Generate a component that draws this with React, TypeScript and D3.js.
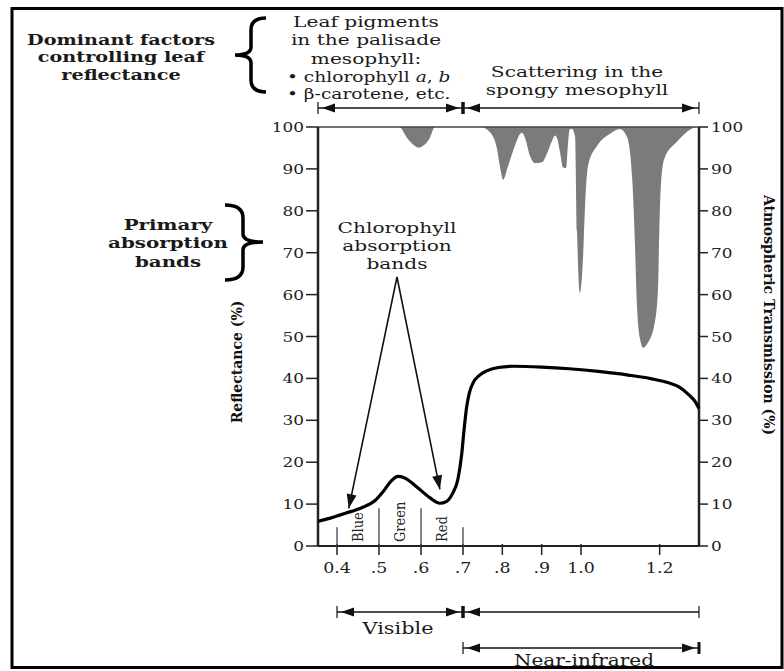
import React from 'react';
import * as d3 from 'd3';

// wavelength (um) -> reflectance (%) of a healthy leaf
const reflectance: [number, number][] = [
  [0.35, 5.9], [0.38, 6.6], [0.42, 7.8], [0.46, 9.2], [0.49, 10.8], [0.51, 13],
  [0.53, 15.6], [0.545, 16.6], [0.56, 16.3], [0.59, 14.1], [0.62, 11.6], [0.645, 10.2],
  [0.66, 10.6], [0.675, 12.5], [0.688, 16], [0.697, 22], [0.703, 28], [0.709, 33],
  [0.716, 36.5], [0.726, 39], [0.74, 40.6], [0.76, 41.8], [0.79, 42.6], [0.83, 42.9],
  [0.9, 42.7], [0.97, 42.3], [1.05, 41.6], [1.12, 40.8], [1.18, 39.9], [1.22, 39],
  [1.25, 37.9], [1.275, 36], [1.29, 34.5], [1.3, 32.8],
];

// wavelength (um) -> atmospheric transmission (%)
const transmission: [number, number][] = [
  [0.35, 100], [0.548, 100], [0.567, 97.4], [0.584, 95.6], [0.595, 95.1], [0.606, 95.6], [0.621, 97.4], [0.633, 100],
  [0.745, 100], [0.768, 98.8], [0.786, 95], [0.794, 90.5], [0.802, 87.4], [0.814, 90.5], [0.832, 95.5],
  [0.845, 98.3], [0.85, 98.6], [0.858, 97.3], [0.87, 93.2], [0.883, 91.4], [0.901, 91.6], [0.914, 93.8],
  [0.926, 96.6], [0.934, 98], [0.939, 97.4], [0.947, 93.8], [0.954, 90.4], [0.962, 90.2], [0.967, 96],
  [0.971, 99.4], [0.977, 99.6], [0.985, 97.6], [0.99, 75], [0.997, 60.4], [1.005, 68.5], [1.01, 80.5],
  [1.018, 90.8], [1.041, 95.5], [1.074, 98.4], [1.099, 99.5], [1.117, 97.6], [1.13, 88], [1.137, 72.5],
  [1.142, 58], [1.15, 49.5], [1.158, 47.3], [1.17, 48.5], [1.188, 53.5], [1.196, 62], [1.199, 75],
  [1.203, 86], [1.212, 92.5], [1.244, 96.5], [1.297, 100], [1.3, 100],
];

const xTicks = [0.4, 0.5, 0.6, 0.7, 0.8, 0.9, 1.0, 1.2];
const xTickLabels = ['0.4', '.5', '.6', '.7', '.8', '.9', '1.0', '1.2'];
const yTicks = [0, 10, 20, 30, 40, 50, 60, 70, 80, 90, 100];

const bandEdges = [0.4, 0.5, 0.6, 0.7];
const bandEdgeTops = [4.5, 9, 9, 4.5];
const bandNames = ['Blue', 'Green', 'Red'];
const bandCenters = [0.45, 0.55, 0.65];

const font = '"DejaVu Serif", serif';

const arrowHead = (tx: number, ty: number, dir: number, L = 13, h = 4.5) =>
  `${tx},${ty} ${tx - dir * L},${ty - h} ${tx - dir * L},${ty + h}`;

// the scanned figure is stretched sideways, so text gets a horizontal scale
const Lines = ({ x, y, dy = 18, lines, sx = 1.25, anchor = 'middle', size = 16, bold = false }: any) => (
  <text transform={`translate(${x},${y}) scale(${sx},1)`} textAnchor={anchor} fontSize={size}
    fontWeight={bold ? 'bold' : 'normal'} fill="#1a1a1a">
    {lines.map((l: string, i: number) => (
      <tspan key={i} x={0} dy={i ? dy : 0}>{l}</tspan>
    ))}
  </text>
);

const App = () => {
  // the original figure's axis is slightly stretched in the visible part
  const x = d3.scaleLinear().domain([0.35, 0.4, 0.7, 1.0, 1.3]).range([318, 337, 463, 581, 699]);
  const y = d3.scaleLinear().domain([0, 100]).range([546, 127]);

  const line = d3.line<[number, number]>()
    .x(d => x(d[0]))
    .y(d => y(d[1]))
    .curve(d3.curveMonotoneX);

  const area = d3.area<[number, number]>()
    .x(d => x(d[0]))
    .y0(y(100))
    .y1(d => y(d[1]))
    .curve(d3.curveMonotoneX);

  const x0 = x.range()[0];
  const x1 = x.range()[x.range().length - 1];

  const span = (xa: number, xb: number, yy: number, headA: boolean, headB: boolean, thickA: boolean, thickB: boolean) => (
    <g>
      <line x1={xa} x2={xb} y1={yy} y2={yy} stroke="#111" strokeWidth={1.6} />
      <line x1={xa} x2={xa} y1={yy - 6} y2={yy + 6} stroke="#111" strokeWidth={thickA ? 3 : 1.2} />
      <line x1={xb} x2={xb} y1={yy - 6} y2={yy + 6} stroke="#111" strokeWidth={thickB ? 3 : 1.2} />
      {headA && <polygon points={arrowHead(xa + 4, yy, -1)} fill="#111" />}
      {headB && <polygon points={arrowHead(xb - 4, yy, 1)} fill="#111" />}
    </g>
  );

  const apex = { x: 397, y: 277 };
  const tipBlue = { x: x(0.428), y: y(9.0) };
  const tipRed = { x: x(0.645), y: y(13.5) };
  const headTo = (from: { x: number; y: number }, to: { x: number; y: number }) => {
    const a = Math.atan2(to.y - from.y, to.x - from.x);
    const L = 14, h = 5;
    const bx = to.x - L * Math.cos(a), by = to.y - L * Math.sin(a);
    return `${to.x},${to.y} ${bx + h * Math.sin(a)},${by - h * Math.cos(a)} ${bx - h * Math.sin(a)},${by + h * Math.cos(a)}`;
  };

  return (
    <svg width={784} height={671} style={{ position: 'absolute', left: 0, top: 0, background: '#fff' }}
      fontFamily={font}>
      {/* atmospheric transmission */}
      <path d={area(transmission) || ''} fill="#7b7b7b" />

      {/* frame */}
      <line x1={x0} x2={x1} y1={y(100)} y2={y(100)} stroke="#444" strokeWidth={1.5} />
      <line x1={x0} x2={x1} y1={y(0)} y2={y(0)} stroke="#222" strokeWidth={2} />
      <line x1={x0} x2={x0} y1={y(100)} y2={y(0)} stroke="#222" strokeWidth={2.5} />
      <line x1={x1} x2={x1} y1={y(100)} y2={y(0)} stroke="#222" strokeWidth={2.5} />

      {/* left axis */}
      {yTicks.map(t => (
        <g key={'l' + t}>
          <line x1={x0 - 12} x2={x0} y1={y(t)} y2={y(t)} stroke="#222" strokeWidth={1.5} />
          <text transform={`translate(${x0 - 14},${y(t) + 5}) scale(1.25,1)`} textAnchor="end" fontSize={13.5} fill="#222">{t}</text>
        </g>
      ))}
      {/* right axis */}
      {yTicks.map(t => (
        <g key={'r' + t}>
          <line x1={x1} x2={x1 + 9} y1={y(t)} y2={y(t)} stroke="#222" strokeWidth={1.5} />
          <text transform={`translate(${x1 + 12},${y(t) + 5}) scale(1.25,1)`} fontSize={13.5} fill="#222">{t}</text>
        </g>
      ))}

      {/* x axis */}
      {xTicks.map((t, i) => (
        <g key={'x' + t}>
          <line x1={x(t)} x2={x(t)} y1={y(0) - 2} y2={y(0) + 9} stroke="#222" strokeWidth={1.5} />
          <text transform={`translate(${x(t)},${y(0) + 27}) scale(1.2,1)`} textAnchor="middle" fontSize={14.5} fill="#222">{xTickLabels[i]}</text>
        </g>
      ))}
      {bandEdges.map((b, i) => (
        <line key={'b' + b} x1={x(b)} x2={x(b)} y1={y(0)} y2={y(bandEdgeTops[i])} stroke="#444" strokeWidth={1.3} />
      ))}
      {bandNames.map((n, i) => (
        <text key={n} transform={`translate(${x(bandCenters[i]) + 5},${y(0) - 4}) rotate(-90) scale(1,1.2)`}
          fontSize={13} fill="#222">{n}</text>
      ))}

      {/* reflectance curve */}
      <path d={line(reflectance) || ''} fill="none" stroke="#000" strokeWidth={3.2} strokeLinejoin="round" />

      {/* chlorophyll absorption arrows */}
      <polyline points={`${tipBlue.x},${tipBlue.y} ${apex.x},${apex.y} ${tipRed.x},${tipRed.y}`}
        fill="none" stroke="#111" strokeWidth={1.6} strokeLinejoin="miter" />
      <polygon points={headTo(apex, tipBlue)} fill="#111" />
      <polygon points={headTo(apex, tipRed)} fill="#111" />
      <Lines x={397} y={233} lines={['Chlorophyll', 'absorption', 'bands']} sx={1.3} size={15.5} />

      {/* axis titles */}
      <text transform="translate(242,362) rotate(-90)" textAnchor="middle" fontSize={14} fontWeight="bold" fill="#111">
        Reflectance (%)
      </text>
      <text transform="translate(764,315) rotate(90)" textAnchor="middle" fontSize={14} fontWeight="bold" fill="#111">
        Atmospheric Transmission (%)
      </text>

      {/* top annotations */}
      <Lines x={121} y={45} dy={17.5} lines={['Dominant factors', 'controlling leaf', 'reflectance']} sx={1.24} size={15.5} bold />
      <path d="M266,18 Q251,18 251,30 L251,47 Q251,55 235,55 Q251,55 251,63 L251,80 Q251,92 266,92"
        fill="none" stroke="#000" strokeWidth={3.5} />
      <Lines x={366} y={27} dy={18.5} lines={['Leaf pigments', 'in the palisade', 'mesophyll:']} sx={1.3} size={15.5} />
      <text transform="translate(287,82) scale(1.2,1)" fontSize={15.5} fill="#1a1a1a">
        <tspan>• chlorophyll </tspan><tspan fontStyle="italic">a</tspan><tspan>, </tspan><tspan fontStyle="italic">b</tspan>
      </text>
      <text transform="translate(287,99) scale(1.2,1)" fontSize={15.5} fill="#1a1a1a">• β-carotene,  etc.</text>
      <Lines x={577} y={77} dy={18} lines={['Scattering in the', 'spongy mesophyll']} sx={1.3} size={15.5} />
      {span(x0, x(0.7), 108, true, true, false, true)}
      {span(x(0.7), x1, 108, true, true, true, false)}

      {/* primary absorption bands */}
      <Lines x={168} y={230} dy={18.5} lines={['Primary', 'absorption', 'bands']} sx={1.28} size={15.5} bold />
      <path d="M225,205 Q243,205 243,218 L243,234 Q243,242 263,242 Q243,242 243,250 L243,267 Q243,280 225,280"
        fill="none" stroke="#000" strokeWidth={3.5} />

      {/* bottom spans */}
      {span(x(0.4), x(0.7), 612, true, true, false, true)}
      {span(x(0.7), x1, 612, true, false, true, false)}
      <Lines x={398} y={634} lines={['Visible']} sx={1.3} size={16} />
      {span(x(0.7), x1, 648, true, true, false, true)}
      <Lines x={584} y={666} lines={['Near-infrared']} sx={1.25} size={16} />

      {/* picture border */}
      <rect x={12} y={8.5} width={770} height={659} fill="none" stroke="#000" strokeWidth={3} />
    </svg>
  );
};

export default App;
